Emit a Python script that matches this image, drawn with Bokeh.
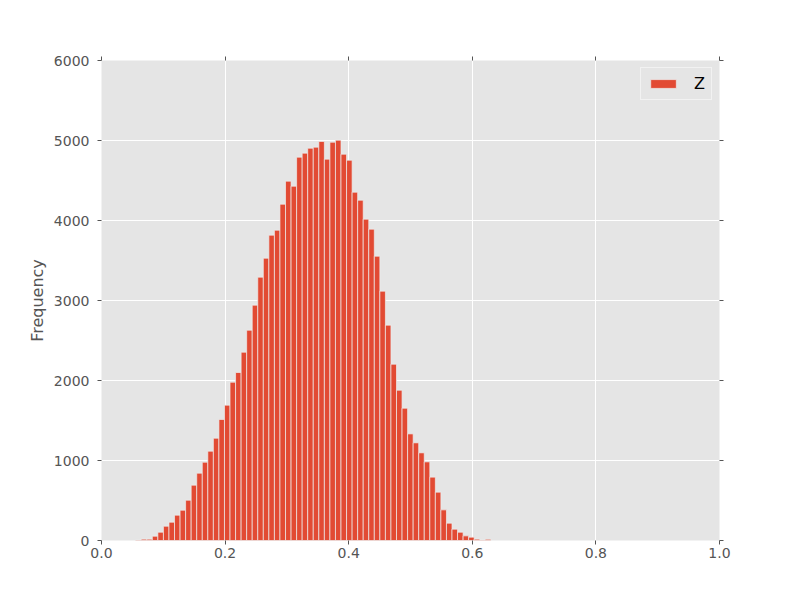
from bokeh.plotting import figure
from bokeh.models import (ColumnDataSource, FixedTicker, LinearAxis, Legend, LegendItem,
                          Range1d, PrintfTickFormatter)
from bokeh.embed import file_html
from bokeh.resources import INLINE

# Histogram of Z: bin layout and counts
bin_start = 0.0553
bin_width = 0.00898
counts = [5, 17, 17, 54, 104, 179, 229, 317, 379, 504, 692, 842, 979, 1117, 1279, 1513,
          1692, 1979, 2100, 2354, 2629, 2942, 3292, 3529, 3817, 3879, 4204, 4492, 4429,
          4792, 4842, 4904, 4917, 4988, 4767, 4979, 5004, 4829, 4754, 4354, 4254, 4017,
          3892, 3554, 3117, 2692, 2204, 1879, 1654, 1333, 1221, 1096, 983, 792, 604, 383,
          217, 142, 104, 58, 42, 17, 5, 15]
x_ticks = [0.0, 0.2, 0.4, 0.6, 0.8, 1.0]
y_ticks = [0, 1000, 2000, 3000, 4000, 5000, 6000]
series_name = "Z"
y_label = "Frequency"

left = [bin_start + i * bin_width for i in range(len(counts))]
right = [l + bin_width for l in left]
src = ColumnDataSource(dict(left=left, right=right, top=counts, bottom=[0] * len(counts)))

FONT = "DejaVu Sans"
GREY = "#555555"

p = figure(frame_width=618, frame_height=480,
           min_border_left=101, min_border_right=65, min_border_top=60, min_border_bottom=52,
           x_range=Range1d(0, 1), y_range=Range1d(0, 6000),
           output_backend="svg", toolbar_location=None,
           background_fill_color="#E5E5E5", border_fill_color="white")
p.outline_line_color = None

r = p.quad(left="left", right="right", top="top", bottom="bottom", source=src,
           fill_color="#E24A33", line_color="#EEEEEE", line_width=0.7)

for g in (p.xgrid[0], p.ygrid[0]):
    g.grid_line_color = "white"
    g.grid_line_width = 1
p.xgrid.ticker = FixedTicker(ticks=x_ticks)
p.ygrid.ticker = FixedTicker(ticks=y_ticks)

def style_axis(ax, ticks, show_labels=True):
    ax.ticker = FixedTicker(ticks=ticks)
    ax.axis_line_color = None
    ax.major_tick_line_color = GREY
    ax.major_tick_in = 0
    ax.major_tick_out = 4
    ax.minor_tick_line_color = None
    ax.major_label_text_font = FONT
    ax.major_label_text_color = GREY
    ax.major_label_text_font_size = "14px" if show_labels else "0px"
    if not show_labels:
        ax.major_label_text_alpha = 0

xa = p.xaxis[0]
style_axis(xa, x_ticks)
xa.formatter = PrintfTickFormatter(format="%.1f")
xa.major_label_standoff = 3

ya = p.yaxis[0]
style_axis(ya, y_ticks)
ya.major_label_standoff = 8
ya.axis_label = y_label
ya.axis_label_text_font = FONT
ya.axis_label_text_font_size = "16px"
ya.axis_label_text_font_style = "normal"
ya.axis_label_text_color = GREY
ya.axis_label_standoff = 4

top_ax = LinearAxis()
style_axis(top_ax, x_ticks, show_labels=False)
top_ax.major_label_standoff = 0
p.add_layout(top_ax, "above")

right_ax = LinearAxis()
style_axis(right_ax, y_ticks, show_labels=False)
right_ax.major_label_standoff = 0
p.add_layout(right_ax, "right")

legend = Legend(items=[LegendItem(label=series_name, renderers=[r])],
                location="top_right", margin=7, padding=6, spacing=0,
                glyph_width=32, glyph_height=11, label_height=14, label_width=10,
                label_standoff=15,
                label_text_font=FONT, label_text_font_size="16px", label_text_color="black",
                background_fill_color="#E5E5E5", background_fill_alpha=1,
                border_line_color="white", border_line_width=1)
p.add_layout(legend)

open("out.html", "w").write(file_html(p, INLINE))
